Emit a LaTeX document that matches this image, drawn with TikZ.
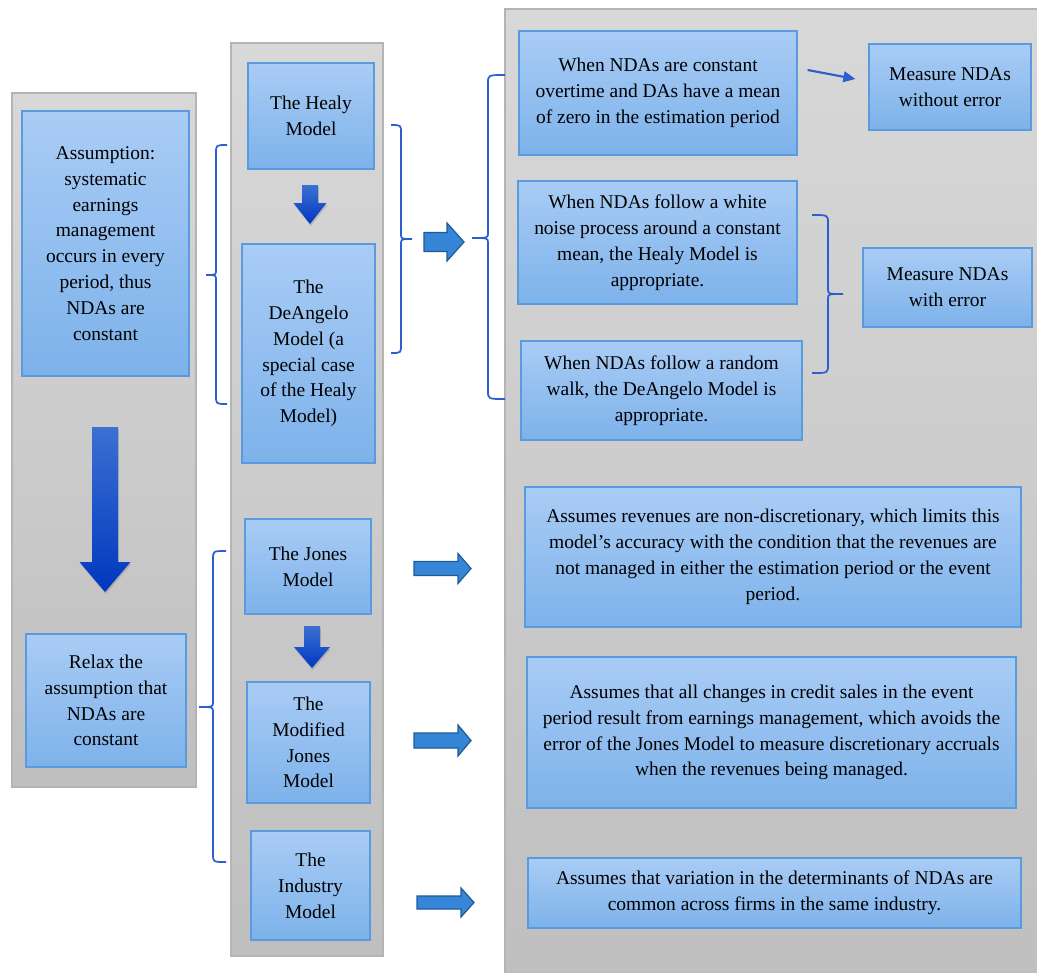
\documentclass[tikz,border=0pt]{standalone}
\usepackage{fontspec}
\setmainfont{Liberation Serif}
\usetikzlibrary{shadows,arrows.meta,calc}
\definecolor{boxtop}{HTML}{A9CCF5}
\definecolor{boxbot}{HTML}{7DB2EA}
\definecolor{boxborder}{HTML}{5A9BE0}
\definecolor{pantop}{HTML}{D8D8D8}
\definecolor{panbot}{HTML}{BFBFBF}
\definecolor{panborder}{HTML}{B4B4B4}
\definecolor{darrtop}{HTML}{3C70D2}
\definecolor{darrbot}{HTML}{0037BE}
\definecolor{barrfill}{HTML}{3586D6}
\definecolor{barrdraw}{HTML}{1F5A98}
\definecolor{bracecol}{HTML}{2B5FD0}
\newcommand\mybox[6]{\node[bluebox, minimum width={(#4-#2)*0.75pt}, minimum height={(#5-#3)*0.75pt}] (#1) at ({(#2+#4)/2},{(#3+#5)/2}) {#6};}
\newcommand\mypanel[5]{\shadedraw[panel] (#2,#3) rectangle (#4,#5); \coordinate (#1) at ({(#2+#4)/2},#3);}
\newcommand\rarrow[6]{\draw[blockarrow] (#1,{#4-#5}) -- (#3,{#4-#5}) -- (#3,{#4-#6}) -- (#2,#4) -- (#3,{#4+#6}) -- (#3,{#4+#5}) -- (#1,{#4+#5}) -- cycle;}
\newcommand\darrow[6]{\shade[downarrow] ({#1-#5},#2) -- ({#1+#5},#2) -- ({#1+#5},#3) -- ({#1+#6},#3) -- (#1,#4) -- ({#1-#6},#3) -- ({#1-#5},#3) -- cycle;}
\newcommand\mybrace[6]{\draw[bracestyle] (#1,#4) .. controls (#2,#4) .. (#2,{#4+8}) -- (#2,{#5-5}) .. controls (#2,#5) .. (#3,#5) .. controls (#2,#5) .. (#2,{#5+5}) -- (#2,{#6-8}) .. controls (#2,#6) .. (#1,#6);}
\begin{document}
\begin{tikzpicture}[x=0.75pt,y=-0.75pt,
  bluebox/.style={draw=boxborder, line width=0.9pt, top color=boxtop, bottom color=boxbot, align=center, inner sep=0pt, font=\fontsize{14.6}{19.4}\selectfont},
  panel/.style={top color=pantop, bottom color=panbot, draw=panborder, line width=0.9pt},
  blockarrow/.style={fill=barrfill, draw=barrdraw, line width=0.9pt, line join=miter},
  downarrow/.style={top color=darrtop, bottom color=darrbot, drop shadow={opacity=0.35, shadow xshift=0.6pt, shadow yshift=-1.5pt}},
  bracestyle/.style={draw=bracecol, line width=1.3pt},
  linearrow/.style={draw=bracecol, line width=1.6pt, -{Triangle[length=9pt,width=8pt]}}]
\useasboundingbox (0,0) rectangle (1037,972);
% panels
\mypanel{pL}{12}{93}{196}{787}
\mypanel{pM}{231}{43}{383}{956}
\mypanel{pR}{505}{9}{1045}{985}
% left column
\mybox{assume}{22}{111}{189}{376}{Assumption:\\systematic\\earnings\\management\\occurs in every\\period, thus\\NDAs are\\constant}
\mybox{relax}{26}{634}{186}{767}{Relax the\\assumption that\\NDAs are\\constant}
% middle column
\mybox{healy}{248}{63}{374}{169}{The Healy\\Model}
\mybox{deangelo}{242}{244}{375}{463}{The\\DeAngelo\\Model (a\\special case\\of the Healy\\Model)}
\mybox{jones}{245}{519}{371}{614}{The Jones\\Model}
\mybox{modjones}{247}{682}{370}{803}{The\\Modified\\Jones\\Model}
\mybox{industry}{251}{831}{370}{940}{The\\Industry\\Model}
% right column
\mybox{r1}{519}{31}{797}{155}{When NDAs are constant\\overtime and DAs have a mean\\of zero in the estimation period}
\mybox{m1}{869}{44}{1031}{130}{Measure NDAs\\without error}
\mybox{r2}{518}{181}{797}{304}{When NDAs follow a white\\noise process around a constant\\mean, the Healy Model is\\appropriate.}
\mybox{r3}{521}{341}{802}{440}{When NDAs follow a random\\walk, the DeAngelo Model is\\appropriate.}
\mybox{m2}{863}{248}{1032}{327}{Measure NDAs\\with error}
\mybox{r4}{525}{487}{1021}{627}{Assumes revenues are non-discretionary, which limits this\\model’s accuracy with the condition that the revenues are\\not managed in either the estimation period or the event\\period.}
\mybox{r5}{527}{657}{1016}{808}{Assumes that all changes in credit sales in the event\\period result from earnings management, which avoids the\\error of the Jones Model to measure discretionary accruals\\when the revenues being managed.}
\mybox{r6}{528}{858}{1021}{928}{Assumes that variation in the determinants of NDAs are\\common across firms in the same industry.}
% down arrows
\darrow{105}{427}{562}{592}{13}{25.5}
\darrow{310}{185}{203}{224}{8}{16.5}
\darrow{312}{626}{647}{668}{8}{18}
% block right arrows
\rarrow{424}{464}{447}{242}{9.5}{19}
\rarrow{414}{471}{458}{568.5}{7}{15}
\rarrow{414}{471}{458}{740.5}{7.5}{15.5}
\rarrow{417}{474}{461}{902.5}{6.5}{14.5}
% braces
\mybrace{227}{216}{206}{145}{275}{404}
\mybrace{391}{401}{412}{125}{239}{353}
\mybrace{505}{488}{472}{75}{238}{399}
\mybrace{812}{828}{843}{215}{294}{373}
\mybrace{226}{213}{199}{551}{707}{862}
% line arrow
\coordinate (la1) at ($(r1.east)+(10,-23)$);
\coordinate (la2) at ($(m1.west)+(-13,-8)$);
\draw[linearrow] (la1) -- (la2);
\end{tikzpicture}
\end{document}
